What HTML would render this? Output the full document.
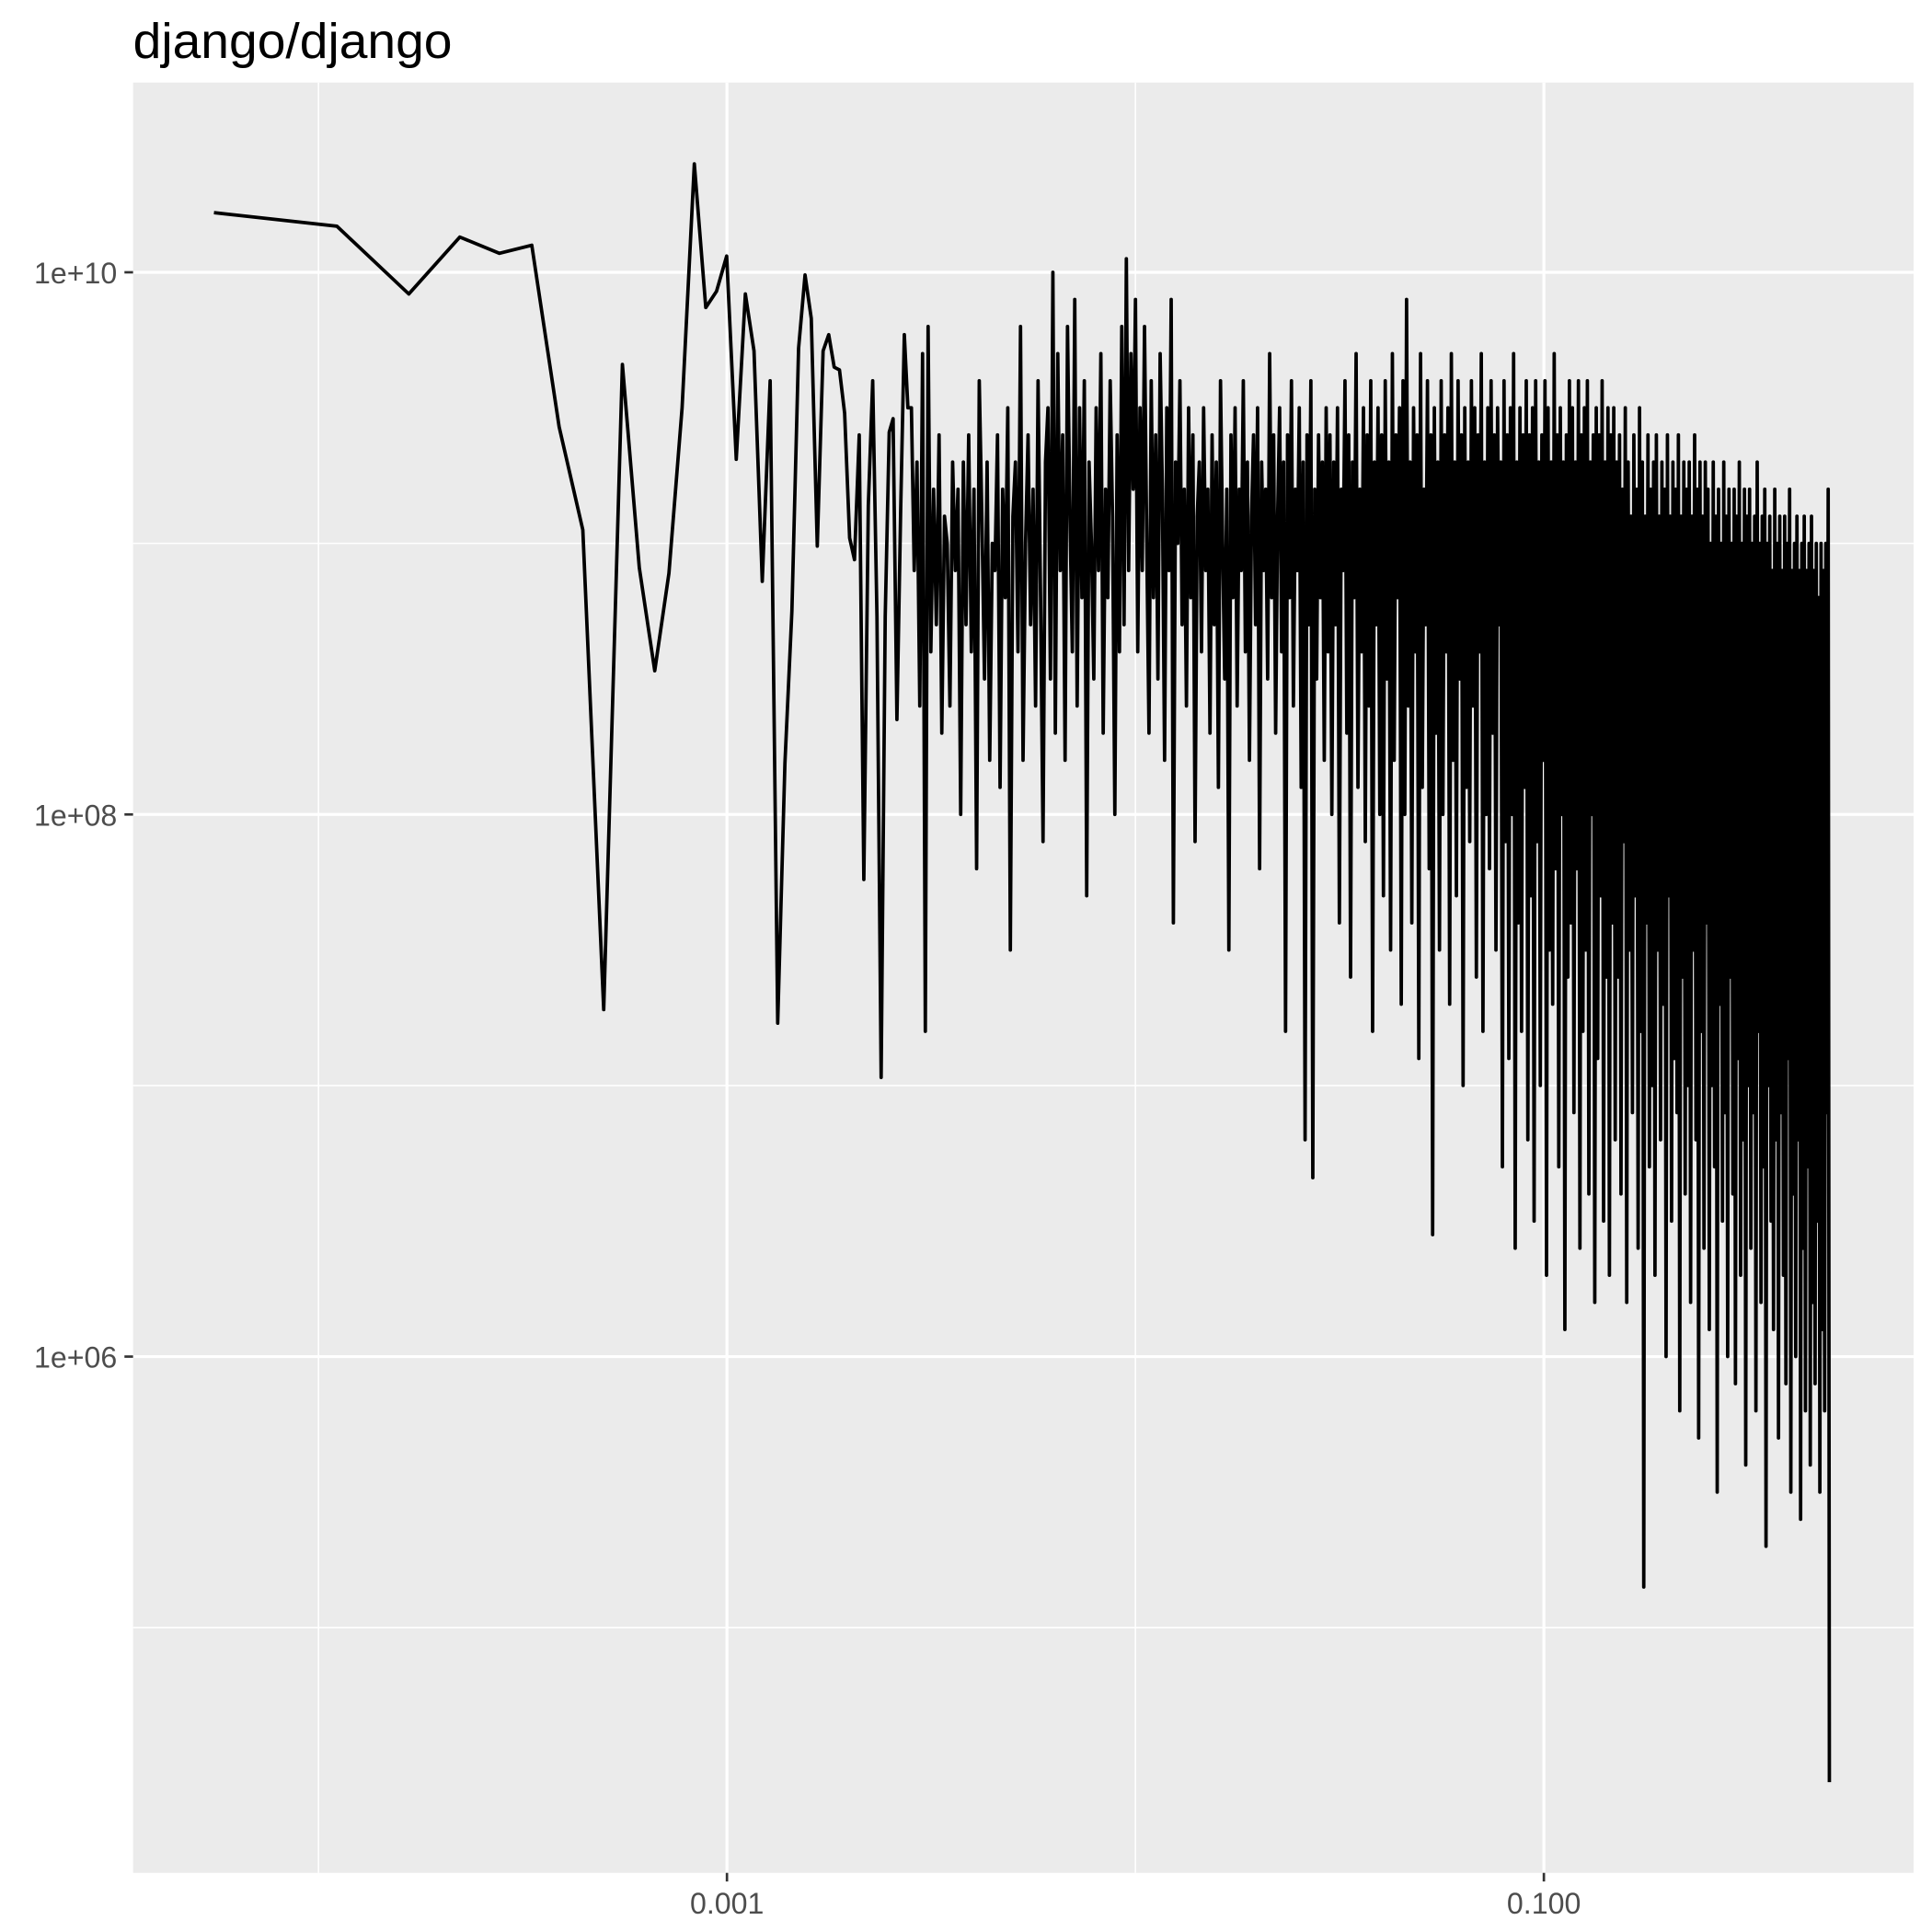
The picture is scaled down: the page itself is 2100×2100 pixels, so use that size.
<!DOCTYPE html>
<html><head><meta charset="utf-8"><style>
html,body{margin:0;padding:0;background:#fff;}
svg{display:block;}
text{font-family:"Liberation Sans",sans-serif;}
</style></head><body>
<svg id="chart" width="2100" height="2100" viewBox="0 0 1568 1568" xmlns="http://www.w3.org/2000/svg">
<text x="108" y="47" font-size="40" fill="#000" textLength="259" lengthAdjust="spacingAndGlyphs">django/django</text>
<rect x="108" y="67" width="1445" height="1453" fill="#ebebeb"/>
<g id="grid"></g>
<g id="axes"></g>
<path id="series" fill="none" stroke="#000" stroke-width="2.8" stroke-linejoin="round"/>
</svg>
<script>
const N_TOTAL = 18030;
const earlyPower = [10.22,10.17,9.92,10.13,10.07,10.10,9.43,9.05,7.28,9.66,8.91,8.53,8.89,9.50,10.40,9.87,9.93,10.06,9.31,9.92,9.71,8.86,9.60,7.23,8.19,8.75,9.72,9.99,9.83,8.99,9.71,9.77,9.65,9.64,9.48,9.02,8.94,9.40,7.76,9.14,9.60,8.73,7.03,8.73,9.41,9.46,8.35,9.12,9.77,9.50];
const densePower = [9.5,8.9,9.3,8.4,9.7,7.2,9.8,8.6,9.2,8.7,9.4,8.3,9.1,9.0,8.4,9.3,8.9,9.2,8.0,9.3,8.7,9.4,8.6,9.2,7.8,9.6,9.1,8.5,9.3,8.2,9.0,8.9,9.4,8.1,9.2,8.8,9.5,7.5,9.1,9.3,8.6,9.8,8.2,9.0,9.4,8.7,9.2,8.4,9.6,8.8,7.9,9.3,9.5,8.5,10.0,8.3,9.7,8.9,9.4,8.2,9.8,9.1,8.6,9.9,8.4,9.5,8.8,9.6,7.7,9.3,9.0,8.5,9.5,8.9,9.7,8.3,9.2,8.8,9.6,9.1,8.0,9.4,8.6,9.8,8.7,
10.05,8.9,9.7,9.2,9.9,8.6,9.5,8.9,9.8,9.0,8.3,9.6,8.8,9.4,8.5,9.7,9.2,8.2,9.5,8.9,9.9,7.6,9.3,9.0,9.6,8.7,9.2,8.4,9.5,8.8,9.4,7.9,9.1,9.3,8.6,9.5,8.9,9.2,8.3,9.4,8.7,9.3,8.1,9.6,9.0,8.5,9.2,7.5,9.4,8.8,9.5,8.4,9.2,8.9,9.6,8.6,9.3,8.2,9.1,9.4,8.7,9.5,7.8,9.3,8.9,9.2,8.5,9.7,8.8,9.4,8.3,9.1,9.5,8.6,9.3,7.2,9.4,8.8,9.6,8.4,9.2,8.9,9.5,8.1,9.3,6.8,9.4,8.7,9.6,6.66,9.2,8.5,9.4,8.8,9.3,8.2,9.5,
8.6,9.4,8.0,9.3,8.7,9.5,7.6,9.2,8.9,9.6,8.3,9.4,7.4,9.3,8.8,9.7,8.1,9.2,8.6,9.5,7.9,9.4,8.4,9.6,7.2,9.3,8.7,9.5,8.0,9.4,7.7,9.6,8.5,9.3,7.5,9.7,8.2,9.4,8.8,9.5,7.3,9.6,8.0,9.9,8.4,9.3,7.6,9.5,8.6,9.4,7.1,9.7,8.1,9.2,8.7,9.6,7.8,9.4,6.45,9.5,8.3,9.3,7.5,9.6,8.0,9.4,8.6,9.5,7.3,9.7,8.2,9.3,7.7,9.6,8.5,9.4,7.0,9.5,8.1,9.3,7.9,9.6,8.4,9.5,7.4,9.4,8.6,9.7,7.2,9.3,8.0,9.5,7.8,9.6,8.3,9.4,7.5,9.5,8.7,9.3,6.7,9.6,7.9,9.4,7.1,9.5,8.0,9.7,6.4,9.3,7.6,9.5,7.2,9.4,8.1,9.6,6.8,9.4,7.7,9.5,6.5,9.6,7.9,9.3,7.0,9.4,8.2,9.6,6.3,9.5,7.5,9.3,7.3,9.7,7.8,9.4,6.7,9.5,8.0,9.3,6.1,9.4,7.4,9.6,7.6,9.5,6.9,9.3,7.8,9.6,6.4,9.4,7.2,9.5,7.5,9.6,6.6,9.3,8.0,9.4,6.2,9.5,7.1,9.4,7.7,9.6,6.5,9.3,7.4,9.5,6.3,9.4,7.6,9.5,6.8,9.3,
7.4,9.4,6.6,9.2,7.9,9.5,6.2,9.3,7.5,9.1,6.9,9.4,7.7,9.2,6.4,9.5,7.2,9.3,5.15,9.1,7.6,9.4,6.7,9.2,7.0,9.3,6.3,9.4,7.5,9.1,6.8,9.3,7.3,9.2,6.0,9.4,7.7,9.1,6.5,9.3,7.1,9.2,6.9,9.4,5.8,9.1,7.4,9.3,6.6,9.2,7.0,9.3,6.2,9.1,7.5,9.4,6.8,9.2,5.7,9.3,7.2,9.1,6.4,9.3,7.6,9.2,6.1,9.0,7.0,9.3,6.7,9.1,5.5,9.2,7.3,9.0,6.5,9.3,6.9,9.1,6.0,9.2,7.4,9.0,6.6,9.2,5.9,9.1,7.1,9.3,6.3,9.0,6.8,9.2,5.6,9.1,7.0,9.2,6.4,9.0,6.9,9.1,5.8,9.3,7.2,9.0,6.2,9.1,6.7,9.2,5.3,9.0,7.0,9.1,6.5,8.9,6.1,9.2,6.8,9.0,5.7,9.1,6.9,8.9,6.3,9.1,5.9,9.0,7.1,9.2,5.5,8.9,6.6,9.0,6.0,9.1,6.8,8.9,5.4,9.0,6.4,9.1,5.8,8.9,6.7,9.0,5.6,9.1,6.2,8.9,5.9,9.0,6.5,8.8,5.5,9.0,6.1,8.9,5.8,9.0,6.9,9.2,4.43];
const denseStartK = 51;
const denseEndK = 9015;
const xMajorBreaks = [0.001, 0.1];
const xMajorLabels = ["0.001", "0.100"];
const xMinorBreaks = [0.0001, 0.01];
const yMajorBreaks = [10, 8, 6];
const yMajorLabels = ["1e+10", "1e+08", "1e+06"];
const yMinorBreaks = [9, 7, 5];

const NS = "http://www.w3.org/2000/svg";
const PX = {l:108, r:1553, t:67, b:1520};
function xScale(f){ return 590 + 331.5 * (Math.log10(f) + 3); }
function yScale(e){ return 221 + 220 * (10 - e); }

const grid = document.getElementById('grid');
const axes = document.getElementById('axes');
function line(parent, x1, y1, x2, y2, stroke, w){
  const l = document.createElementNS(NS, 'line');
  l.setAttribute('x1', x1); l.setAttribute('y1', y1);
  l.setAttribute('x2', x2); l.setAttribute('y2', y2);
  l.setAttribute('stroke', stroke); l.setAttribute('stroke-width', w);
  parent.appendChild(l);
  return l;
}
function text(parent, x, y, s, anchor){
  const t = document.createElementNS(NS, 'text');
  t.setAttribute('x', x); t.setAttribute('y', y);
  t.setAttribute('font-size', '24'); t.setAttribute('fill', '#4d4d4d');
  t.setAttribute('text-anchor', anchor);
  t.textContent = s;
  parent.appendChild(t);
  return t;
}
xMinorBreaks.forEach(b => {
  const l = line(grid, xScale(b), PX.t, xScale(b), PX.b, '#fff', 1.2);
  
  
});
yMinorBreaks.forEach(b => {
  const l = line(grid, PX.l, yScale(b), PX.r, yScale(b), '#fff', 1.2);
  
  
});
xMajorBreaks.forEach((b, i) => {
  const x = xScale(b);
  const g = line(grid, x, PX.t, x, PX.b, '#fff', 2.4);
  
  
  const tk = line(axes, x, PX.b, x, PX.b + 7, '#333', 2);
  
  
  const t = text(axes, x, PX.b + 33, xMajorLabels[i], 'middle');
  
  
});
yMajorBreaks.forEach((b, i) => {
  const y = yScale(b);
  const g = line(grid, PX.l, y, PX.r, y, '#fff', 2.4);
  
  
  const tk = line(axes, PX.l - 7, y, PX.l, y, '#333', 2);
  
  
  const t = text(axes, PX.l - 13, y + 9, yMajorLabels[i], 'end');
  
  
});

let pts = [];
earlyPower.forEach((e, i) => {
  const k = i + 1;
  pts.push([xScale(k / N_TOTAL), yScale(e)]);
});
const n = densePower.length;
const spacingPow = 6;
const a = Math.pow(denseStartK, 1 / spacingPow), bEnd = Math.pow(denseEndK, 1 / spacingPow);
densePower.forEach((e, i) => {
  const k = Math.pow(a + (bEnd - a) * i / (n - 1), spacingPow);
  pts.push([xScale(k / N_TOTAL), yScale(e)]);
});
document.getElementById('series').setAttribute('d',
  pts.map((p, i) => (i ? 'L' : 'M') + p[0].toFixed(2) + ' ' + p[1].toFixed(2)).join(''));
</script>
</body></html>
